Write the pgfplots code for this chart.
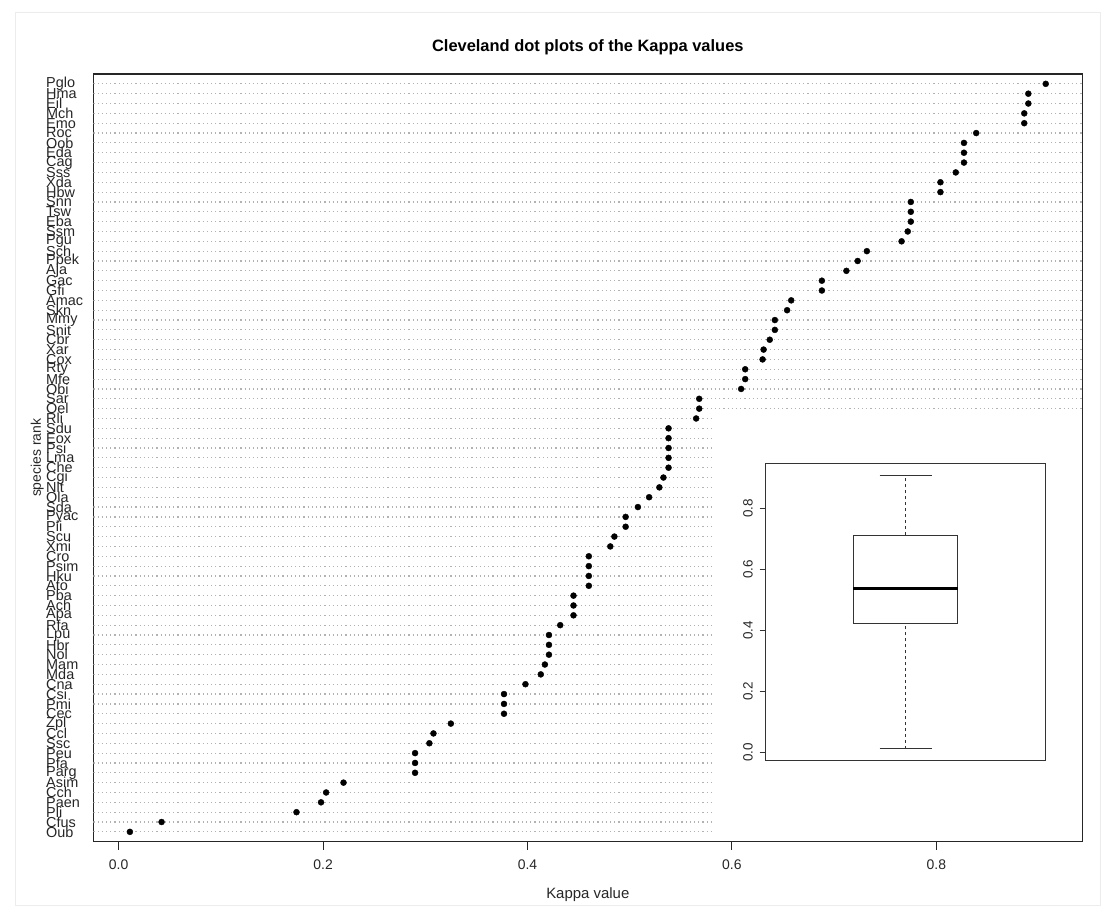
\documentclass[border=0pt]{standalone}
\usepackage{fontspec}
\setmainfont{Liberation Sans}
\usepackage{pgfplots}
\pgfplotsset{compat=1.18}
\pgfplotstableread{
x y
0.011 1
0.042 2
0.174 3
0.198 4
0.203 5
0.220 6
0.290 7
0.290 8
0.290 9
0.304 10
0.308 11
0.325 12
0.377 13
0.377 14
0.377 15
0.398 16
0.413 17
0.417 18
0.421 19
0.421 20
0.421 21
0.432 22
0.445 23
0.445 24
0.445 25
0.460 26
0.460 27
0.460 28
0.460 29
0.481 30
0.485 31
0.496 32
0.496 33
0.508 34
0.519 35
0.529 36
0.533 37
0.538 38
0.538 39
0.538 40
0.538 41
0.538 42
0.565 43
0.568 44
0.568 45
0.609 46
0.613 47
0.613 48
0.630 49
0.631 50
0.637 51
0.642 52
0.642 53
0.654 54
0.658 55
0.688 56
0.688 57
0.712 58
0.723 59
0.732 60
0.766 61
0.772 62
0.775 63
0.775 64
0.775 65
0.804 66
0.804 67
0.819 68
0.827 69
0.827 70
0.827 71
0.839 72
0.886 73
0.886 74
0.890 75
0.890 76
0.907 77
}\kappatable
\begin{document}
\begin{tikzpicture}
\useasboundingbox (-93.3bp,-70.3bp) rectangle (1014.7bp,841.7bp);
\draw[gray!15, line width=0.8bp] (-78.3bp,-63.3bp) rectangle (1006.7bp,829.7bp);
\begin{axis}[
  scale only axis, width=989bp, height=767.7bp,
  at={(0,0)}, anchor=south west,
  xmin=-0.0248, xmax=0.9428, ymin=0, ymax=78,
  axis line style={black!85, line width=1.3bp},
  /pgf/number format/assume math mode=true,
  tick align=outside, major tick length=8bp,
  xtick={0,0.2,0.4,0.6,0.8}, xticklabels={0.0,0.2,0.4,0.6,0.8},
  xtick pos=bottom, xtick style={black!85, line width=0.9bp},
  ytick={1,...,77},
  yticklabels={Oub,Cfus,Pli,Paen,Cch,Asim,Parg,Pfa,Peu,Ssc,Ccl,Zpl,Cec,Pmi,Csi,Cna,Mda,Mam,Nol,Hbr,Lpu,Rfa,Apa,Ach,Pba,Ato,Hku,Psim,Cro,Xmi,Scu,Pii,Pyac,Sda,Ola,Nlt,Cgi,Che,Lma,Psi,Eox,Sdu,Rli,Oel,Sar,Obi,Mfe,Rty,Cox,Xar,Cbr,Snit,Mmy,Skn,Amac,Gfi,Gac,Aja,Ppek,Sch,Pgu,Ssm,Eba,Tsw,Snn,Hbw,Xda,Sss,Cag,Eda,Oob,Roc,Emo,Mch,Eil,Hma,Pglo},
  ytick pos=left, ytick style={draw=none},
  yticklabel style={anchor=west, inner sep=0pt, xshift=-39.3bp, font=\fontsize{14.5}{14.5}\selectfont, text=black!85},
  xticklabel style={anchor=center, yshift=-15.3bp, font=\fontsize{14}{14}\selectfont, text=black!85},
  title={Cleveland dot plots of the Kappa values},
  title style={font=\bfseries\fontsize{16.5}{19}\selectfont, at={(axis description cs:0.5,1)}, anchor=center, yshift=21bp},
  xlabel={Kappa value},
  xlabel style={font=\fontsize{15}{15}\selectfont, at={(axis description cs:0.5,0)}, anchor=center, yshift=-53.3bp, text=black!85},
  ylabel={species rank},
  ylabel style={font=\fontsize{14}{14}\selectfont, at={(axis description cs:-0.0566,0.5)}, anchor=center, text=black!85},
]
\pgfplotsinvokeforeach{1,...,43}{
  \addplot[gray!60, line width=1.2bp, dash pattern=on 1.2bp off 3bp, forget plot] coordinates {(-0.0248,#1) (0.5823,#1)};
}
\pgfplotsinvokeforeach{44,...,77}{
  \addplot[gray!60, line width=1.2bp, dash pattern=on 1.2bp off 3bp, forget plot] coordinates {(-0.0248,#1) (0.9428,#1)};
}
\addplot[only marks, mark=*, mark size=3bp, black] table[x=x, y=y] {\kappatable};
\end{axis}
\begin{axis}[
  scale only axis, width=280bp, height=297.4bp,
  at={(672.4bp,81bp)}, anchor=south west,
  xmin=0, xmax=1, ymin=-0.0275, ymax=0.9475,
  axis background/.style={fill=white},
  axis line style={black!80, line width=1bp},
  /pgf/number format/assume math mode=true,
  xtick=\empty,
  ytick={0,0.2,0.4,0.6,0.8}, yticklabels={0.0,0.2,0.4,0.6,0.8},
  ytick pos=left, tick align=outside, major tick length=6bp,
  ytick style={black!80, line width=0.8bp},
  yticklabel style={rotate=90, anchor=center, yshift=11.7bp, font=\fontsize{13.5}{13.5}\selectfont, text=black!85},
]
\addplot[black!80, line width=1bp] coordinates {(0.313,0.421) (0.686,0.421) (0.686,0.712) (0.313,0.712) (0.313,0.421)};
\addplot[black, line width=2.6bp] coordinates {(0.313,0.538) (0.686,0.538)};
\addplot[black!80, line width=0.9bp, dashed] coordinates {(0.5,0.011) (0.5,0.421)};
\addplot[black!80, line width=0.9bp, dashed] coordinates {(0.5,0.712) (0.5,0.907)};
\addplot[black!80, line width=1bp] coordinates {(0.407,0.011) (0.593,0.011)};
\addplot[black!80, line width=1bp] coordinates {(0.407,0.907) (0.593,0.907)};
\end{axis}
\end{tikzpicture}
\end{document}
